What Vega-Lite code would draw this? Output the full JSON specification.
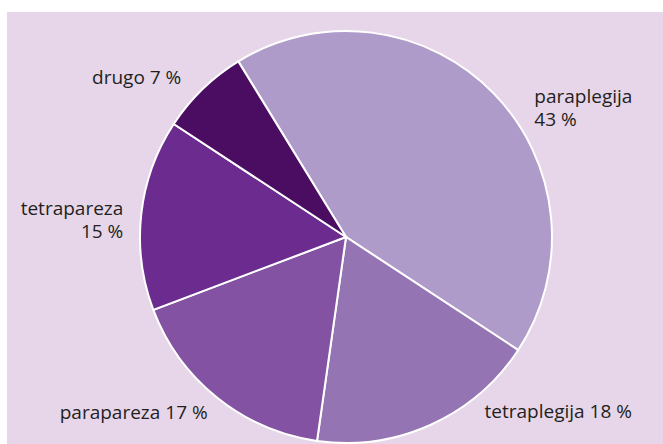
{
  "$schema": "https://vega.github.io/schema/vega-lite/v6.json",
  "width": 656,
  "height": 432,
  "autosize": {"type": "none"},
  "padding": {"left": 7, "top": 12, "right": 0, "bottom": 0},
  "background": "white",
  "view": {"fill": "#e7d6e9", "stroke": null},
  "config": {"text": {"font": "Open Sans", "fontSize": 19, "color": "#231f20"}},
  "data": {
    "values": [
      {"category": "paraplegija", "percent": 43, "label": "paraplegija\n43 %", "rank": 1},
      {"category": "tetraplegija", "percent": 18, "label": "tetraplegija 18 %", "rank": 2},
      {"category": "parapareza", "percent": 17, "label": "parapareza 17 %", "rank": 3},
      {"category": "tetrapareza", "percent": 15, "label": "tetrapareza\n15 %", "rank": 4},
      {"category": "drugo", "percent": 7, "label": "drugo 7 %", "rank": 5}
    ]
  },
  "encoding": {
    "theta": {"field": "percent", "type": "quantitative", "stack": true, "scale": {"range": [-0.55, 5.733]}},
    "order": {"field": "rank", "type": "quantitative"}
  },
  "layer": [
    {
      "mark": {"type": "arc", "outerRadius": 206, "stroke": "white", "strokeWidth": 2, "x": 339, "y": 225},
      "encoding": {
        "color": {
          "field": "category",
          "type": "nominal",
          "scale": {
            "domain": ["paraplegija", "tetraplegija", "parapareza", "tetrapareza", "drugo"],
            "range": ["#af9bc9", "#9574b3", "#8352a3", "#6c2b8f", "#4a0d61"]
          },
          "legend": null
        }
      }
    },
    {
      "mark": {"type": "text", "x": 339, "y": 225, "radius": 215, "align": "left", "baseline": "alphabetic", "dx": 34, "dy": 16, "lineBreak": "\n", "lineHeight": 23},
      "encoding": {"text": {"condition": {"test": "datum.category === 'paraplegija'", "field": "label"}, "value": ""}}
    },
    {
      "mark": {"type": "text", "x": 339, "y": 225, "radius": 215, "align": "left", "baseline": "alphabetic", "dx": 50, "dy": -15},
      "encoding": {"text": {"condition": {"test": "datum.category === 'tetraplegija'", "field": "label"}, "value": ""}}
    },
    {
      "mark": {"type": "text", "x": 339, "y": 225, "radius": 215, "align": "right", "baseline": "alphabetic", "dx": -4, "dy": 14},
      "encoding": {"text": {"condition": {"test": "datum.category === 'parapareza'", "field": "label"}, "value": ""}}
    },
    {
      "mark": {"type": "text", "x": 339, "y": 225, "radius": 215, "align": "right", "baseline": "alphabetic", "dx": -9, "dy": 2, "lineBreak": "\n", "lineHeight": 23},
      "encoding": {"text": {"condition": {"test": "datum.category === 'tetrapareza'", "field": "label"}, "value": ""}}
    },
    {
      "mark": {"type": "text", "x": 339, "y": 225, "radius": 215, "align": "right", "baseline": "alphabetic", "dx": -15, "dy": 1},
      "encoding": {"text": {"condition": {"test": "datum.category === 'drugo'", "field": "label"}, "value": ""}}
    }
  ]
}
